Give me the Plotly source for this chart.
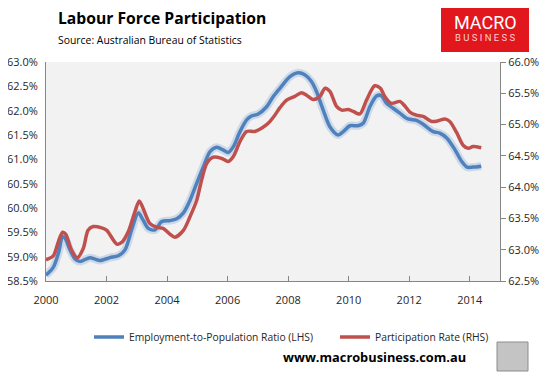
import plotly.graph_objects as go

# ---- data (decimal year, %) ----
emp_t = [2000.00, 2000.24, 2000.41, 2000.55, 2000.63, 2000.79, 2000.96, 2001.12, 2001.45, 2001.62,
         2001.78, 2002.11, 2002.39, 2002.61, 2002.83, 2003.05, 2003.21, 2003.38, 2003.60, 2003.82,
         2004.10, 2004.32, 2004.54, 2004.76, 2004.98, 2005.20, 2005.42, 2005.64, 2005.86, 2006.02,
         2006.19, 2006.41, 2006.63, 2006.79, 2007.01, 2007.29, 2007.51, 2007.73, 2008.06, 2008.33,
         2008.55, 2008.77, 2008.94, 2009.16, 2009.38, 2009.65, 2009.82, 2010.04, 2010.31, 2010.48,
         2010.70, 2010.92, 2011.08, 2011.25, 2011.47, 2011.69, 2011.96, 2012.24, 2012.46, 2012.79,
         2013.01, 2013.24, 2013.51, 2013.73, 2013.91, 2014.11, 2014.38]
emp_v = [58.62, 58.78, 59.07, 59.41, 59.38, 59.14, 58.95, 58.90, 58.98, 58.95,
         58.92, 58.98, 59.02, 59.14, 59.55, 59.90, 59.75, 59.58, 59.55, 59.72,
         59.74, 59.78, 59.90, 60.16, 60.51, 60.85, 61.16, 61.25, 61.19, 61.14,
         61.26, 61.57, 61.81, 61.89, 61.93, 62.08, 62.29, 62.46, 62.70, 62.78,
         62.74, 62.60, 62.39, 62.01, 61.67, 61.50, 61.57, 61.69, 61.69, 61.74,
         62.08, 62.30, 62.31, 62.15, 62.05, 61.95, 61.83, 61.80, 61.72, 61.57,
         61.54, 61.44, 61.20, 60.96, 60.84, 60.84, 60.86]

part_t = [2000.00, 2000.24, 2000.41, 2000.55, 2000.65, 2000.84, 2001.03, 2001.23, 2001.39, 2001.56,
          2001.84, 2002.01, 2002.34, 2002.51, 2002.72, 2002.94, 2003.08, 2003.21, 2003.43, 2003.65,
          2003.87, 2004.09, 2004.26, 2004.54, 2004.76, 2004.98, 2005.14, 2005.31, 2005.53, 2005.80,
          2006.02, 2006.19, 2006.41, 2006.63, 2006.90, 2007.12, 2007.34, 2007.56, 2007.73, 2007.95,
          2008.22, 2008.44, 2008.61, 2008.83, 2009.05, 2009.22, 2009.38, 2009.60, 2009.77, 2009.99,
          2010.15, 2010.37, 2010.59, 2010.86, 2011.05, 2011.19, 2011.41, 2011.69, 2011.85, 2012.02,
          2012.24, 2012.46, 2012.74, 2012.96, 2013.18, 2013.34, 2013.57, 2013.78, 2013.95, 2014.11,
          2014.38]
part_v = [62.84, 62.90, 63.13, 63.28, 63.25, 63.00, 62.87, 63.02, 63.31, 63.37,
          63.35, 63.31, 63.09, 63.12, 63.29, 63.61, 63.78, 63.66, 63.42, 63.36,
          63.34, 63.25, 63.20, 63.31, 63.53, 63.79, 64.11, 64.38, 64.48, 64.46,
          64.41, 64.49, 64.73, 64.89, 64.89, 64.94, 65.02, 65.15, 65.27, 65.39,
          65.45, 65.51, 65.47, 65.40, 65.45, 65.58, 65.53, 65.29, 65.23, 65.24,
          65.21, 65.17, 65.39, 65.62, 65.58, 65.45, 65.34, 65.37, 65.30, 65.20,
          65.15, 65.13, 65.05, 65.06, 65.09, 65.05, 64.87, 64.67, 64.62, 64.65,
          64.63]

x_ticks = [2000, 2002, 2004, 2006, 2008, 2010, 2012, 2014]
emp_name = "Employment-to-Population Ratio (LHS)"
part_name = "Participation Rate (RHS)"

BLUE = "#4F81BD"
RED = "#C0504D"
FONT = "Open Sans"
TXT = "#262626"

fig = go.Figure()
# soft glow under the blue line
fig.add_trace(go.Scatter(x=emp_t, y=emp_v, mode="lines", showlegend=False, hoverinfo="skip",
                         line=dict(color="rgba(79,129,189,0.22)", width=8, shape="spline", smoothing=0.8)))
fig.add_trace(go.Scatter(x=emp_t, y=emp_v, mode="lines", name=emp_name, legend="legend",
                         line=dict(color=BLUE, width=3.5, shape="spline", smoothing=0.8)))
fig.add_trace(go.Scatter(x=part_t, y=part_v, mode="lines", name=part_name, yaxis="y2", legend="legend2",
                         line=dict(color=RED, width=3.5, shape="spline", smoothing=0.8)))

# page body has an 8px margin: lay the figure out in screen pixels minus this offset
OFF = 8
W, H = 554 - OFF, 378 - OFF
PLOT_L, PLOT_R, PLOT_T, PLOT_B = 46 - OFF, 500 - OFF, 62 - OFF, 281 - OFF
L, R, T, B = PLOT_L, W - PLOT_R, PLOT_T, H - PLOT_B
pw, ph = PLOT_R - PLOT_L, PLOT_B - PLOT_T

def px(x):  # screen pixel -> paper
    return (x - OFF - PLOT_L) / pw

def py(y):
    return (PLOT_B - (y - OFF)) / ph

leg_common = dict(orientation="h", xanchor="left", yanchor="middle", y=py(337),
                  font=dict(size=10.3, color=TXT), itemwidth=30, bgcolor="rgba(0,0,0,0)")

fig.update_layout(
    width=W, height=H,
    margin=dict(l=L, r=R, t=T, b=B, autoexpand=False),
    paper_bgcolor="white", plot_bgcolor="#F2F2F2",
    font=dict(family=FONT, size=11, color=TXT),
    showlegend=True,
    legend=dict(x=px(89), **leg_common),
    legend2=dict(x=px(335), **leg_common),
    xaxis=dict(range=[2000, 2015], tickvals=x_ticks, ticktext=[str(v) for v in x_ticks],
               showgrid=False, zeroline=False, showline=True, linecolor="#868686", linewidth=1,
               ticks="inside", ticklen=5, tickcolor="#868686", ticklabelstandoff=9,
               tickfont=dict(size=11, color=TXT)),
    yaxis=dict(range=[58.5, 63.0], dtick=0.5, tickformat=".1f", ticksuffix="%",
               showgrid=False, zeroline=False, showline=True, linecolor="#868686", linewidth=1,
               ticks="", ticklabelstandoff=5, tickfont=dict(size=11, color=TXT)),
    yaxis2=dict(range=[62.5, 66.0], dtick=0.5, tickformat=".1f", ticksuffix="%",
                overlaying="y", side="right",
                showgrid=False, zeroline=False, showline=True, linecolor="#868686", linewidth=1,
                ticks="outside", ticklen=5, tickcolor="#868686", tickfont=dict(size=11, color=TXT)),
)

ann = []
ann.append(dict(text="<b>Labour Force Participation</b>", x=px(56), y=py(18), xref="paper", yref="paper",
                xanchor="left", yanchor="middle", showarrow=False,
                font=dict(family=FONT, size=15.7, color="#000000")))
ann.append(dict(text="Source: Australian Bureau of Statistics", x=px(56), y=py(40), xref="paper", yref="paper",
                xanchor="left", yanchor="middle", showarrow=False,
                font=dict(family=FONT, size=10.4, color="#000000")))
ann.append(dict(text="MACRO", x=px(485), y=py(23), xref="paper", yref="paper",
                xanchor="center", yanchor="middle", showarrow=False,
                font=dict(family="Roboto", size=18, color="white")))
ann.append(dict(text="B U S I N E S S", x=px(485), y=py(37), xref="paper", yref="paper",
                xanchor="center", yanchor="middle", showarrow=False,
                font=dict(family="Roboto", size=9.5, color="#FBD0D0")))
ann.append(dict(text="<b>www.macrobusiness.com.au</b>", x=px(281), y=py(357), xref="paper", yref="paper",
                xanchor="left", yanchor="middle", showarrow=False,
                font=dict(family=FONT, size=12.8, color="#000000")))
fig.update_layout(annotations=ann)

shapes = [
    dict(type="rect", xref="paper", yref="paper", x0=px(441), x1=px(529), y0=py(52), y1=min(py(5), py(OFF)),
         fillcolor="#E2161D", line=dict(width=0), layer="above"),
    dict(type="rect", xref="paper", yref="paper", x0=px(497), x1=px(528), y0=py(371), y1=py(342),
         fillcolor="#C4C4C4", line=dict(width=1, color="#8C8C8C"), layer="above"),
]
fig.update_layout(shapes=shapes)

fig.write_html("out.html")
